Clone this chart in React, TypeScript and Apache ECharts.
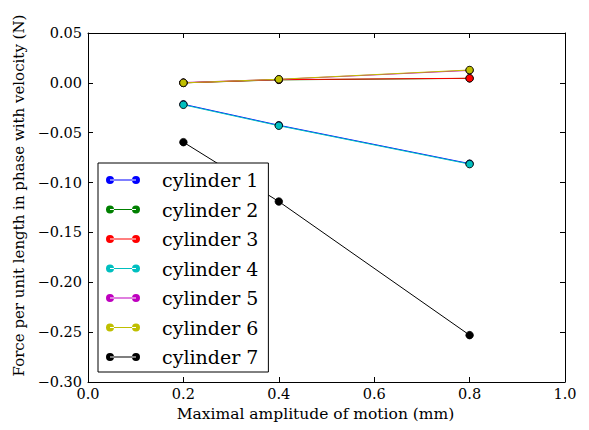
import React, { useEffect, useRef } from "react";
import * as echarts from "echarts";

// Amplitudes at which each cylinder was tested (mm)
const amplitudes = [0.2, 0.4, 0.8];

// Force per unit length in phase with velocity (N), one list per cylinder
const cylinder1 = [-0.0215, -0.0425, -0.081];
const cylinder2 = [0.0, 0.003, 0.0045];
const cylinder3 = [0.0, 0.0032, 0.0046];
const cylinder4 = [-0.022, -0.043, -0.0815];
const cylinder5 = [0.0003, 0.0035, 0.0125];
const cylinder6 = [0.0, 0.0036, 0.0129];
const cylinder7 = [-0.0595, -0.119, -0.253];

const seriesNames = [
  "cylinder 1",
  "cylinder 2",
  "cylinder 3",
  "cylinder 4",
  "cylinder 5",
  "cylinder 6",
  "cylinder 7",
];
const seriesValues = [cylinder1, cylinder2, cylinder3, cylinder4, cylinder5, cylinder6, cylinder7];
const seriesColors = ["#0000ff", "#008000", "#ff0000", "#00bfbf", "#bf00bf", "#bfbf00", "#000000"];

const xTicks = { min: 0, max: 1, interval: 0.2 };
const yTicks = { min: -0.3, max: 0.05, interval: 0.05 };

const FONT = "DejaVu Serif";
const minus = (s: string) => s.replace("-", "\u2212");

// legend glyph: a short line with a marker at each end
const LEGEND_ICON =
  "path://M0,4a4,4 0 1,0 8,0a4,4 0 1,0 -8,0ZM26,4a4,4 0 1,0 8,0a4,4 0 1,0 -8,0ZM4,3.5H30V4.5H4Z";

export default function App() {
  const ref = useRef<HTMLDivElement>(null);

  useEffect(() => {
    if (!ref.current) return;
    const chart = echarts.init(ref.current, undefined, { renderer: "svg" });

    const axisCommon = {
      type: "value" as const,
      axisLine: { show: true, onZero: false, lineStyle: { color: "#000", width: 1 } },
      axisTick: { show: true, inside: true, length: 5, lineStyle: { color: "#000", width: 1 } },
      splitLine: { show: false },
    };

    chart.setOption({
      animation: false,
      backgroundColor: "#fff",
      grid: { left: 88, right: 24, top: 33, bottom: 48 },
      xAxis: [
        {
          ...axisCommon,
          position: "bottom",
          min: xTicks.min,
          max: xTicks.max,
          interval: xTicks.interval,
          name: "Maximal amplitude of motion (mm)",
          nameLocation: "middle",
          nameGap: 23,
          nameTextStyle: { fontFamily: FONT, fontSize: 15.5, color: "#000", padding: [0, 22, 0, 0] },
          axisLabel: {
            margin: 4,
            fontFamily: FONT,
            fontSize: 14.5,
            color: "#000",
            formatter: (v: number) => minus(v.toFixed(1)),
          },
        },
        {
          ...axisCommon,
          position: "top",
          min: xTicks.min,
          max: xTicks.max,
          interval: xTicks.interval,
          axisLabel: { show: false },
        },
      ],
      yAxis: [
        {
          ...axisCommon,
          position: "left",
          min: yTicks.min,
          max: yTicks.max,
          interval: yTicks.interval,
          name: "Force per unit length in phase with velocity (N)",
          nameLocation: "middle",
          nameGap: 55,
          nameTextStyle: { fontFamily: FONT, fontSize: 15, color: "#000", padding: [0, 0, 0, 24] },
          axisLabel: {
            margin: 6,
            fontFamily: FONT,
            fontSize: 14.5,
            color: "#000",
            formatter: (v: number) => minus(v.toFixed(2)),
          },
        },
        {
          ...axisCommon,
          position: "right",
          min: yTicks.min,
          max: yTicks.max,
          interval: yTicks.interval,
          axisLabel: { show: false },
        },
      ],
      legend: {
        orient: "vertical",
        left: 98,
        top: 163,
        padding: [7, 10, 5, 8],
        itemGap: 9.5,
        itemWidth: 34,
        itemHeight: 8,
        icon: LEGEND_ICON,
        backgroundColor: "#fff",
        borderColor: "#000",
        borderWidth: 1,
        borderRadius: 0,
        itemStyle: { borderWidth: 0 },
        textStyle: {
          fontFamily: FONT,
          fontSize: 19,
          color: "#000",
          lineHeight: 20,
          padding: [0, 0, 0, 17],
        },
        data: seriesNames,
      },
      series: seriesNames.map((name, i) => ({
        name,
        type: "line",
        data: amplitudes.map((a, j) => [a, seriesValues[i][j]]),
        color: seriesColors[i],
        symbol: "circle",
        symbolSize: 7.5,
        showSymbol: true,
        lineStyle: { width: 1, color: seriesColors[i] },
        itemStyle: { color: seriesColors[i], borderColor: "#000", borderWidth: 0.8 },
        emphasis: { disabled: true },
      })),
    });

    return () => chart.dispose();
  }, []);

  return <div ref={ref} style={{ width: 589, height: 430, position: "absolute", left: 0, top: 0 }} />;
}
